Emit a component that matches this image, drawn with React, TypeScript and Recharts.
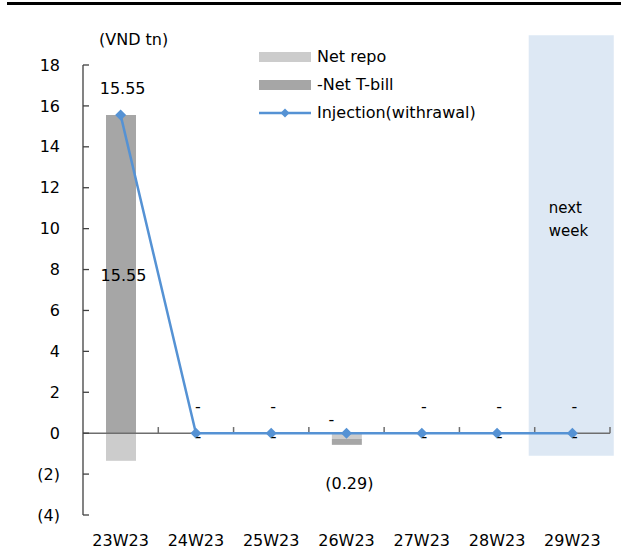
import React from 'react';
import {
  ComposedChart, Bar, Line, XAxis, YAxis, ReferenceLine, ReferenceArea, LabelList,
} from 'recharts';

const categories = ['23W23', '24W23', '25W23', '26W23', '27W23', '28W23', '29W23'];
const netRepo = [-1.35, 0, 0, -0.28, 0, 0, 0];
const negNetTbill = [15.55, 0, 0, -0.29, 0, 0, 0];
const injection = [15.55, 0, 0, 0, 0, 0, 0];
const yTicks = [-4, -2, 0, 2, 4, 6, 8, 10, 12, 14, 16, 18];
const boundaries = [1, 2, 3, 4, 5, 6, 7];
const nextWeekX: [number, number] = [5.92, 7.05];
const nextWeekY: [number, number] = [-1.1, 19.45];

const data = categories.map((cat, i) => ({
  cat,
  netRepo: netRepo[i],
  tbill: negNetTbill[i],
  injection: injection[i],
}));

const FONT = 'DejaVu Sans';
const C_REPO = '#CCCCCC';
const C_TBILL = '#A6A6A6';
const C_LINE = '#5592D4';
const C_AXIS = '#404040';

const fmtVal = (v: number) =>
  v === 0 ? '-' : v < 0 ? `(${Math.abs(v).toFixed(2)})` : v.toFixed(2);
const fmtTick = (v: number) => (v < 0 ? `(${-v})` : `${v}`);

const LINE_LABEL_NUDGE: Record<number, [number, number]> = { 3: [-17, 13] };

const Diamond = (props: any) => {
  const { cx, cy, index } = props;
  if (cx == null || cy == null) return null;
  const s = 5.5;
  return (
    <path
      key={`d-${index}`}
      d={`M${cx},${cy - s}L${cx + s},${cy}L${cx},${cy + s}L${cx - s},${cy}Z`}
      fill={C_LINE}
    />
  );
};

const LineLabel = (props: any) => {
  const { x, y, value, index } = props;
  const [nx, ny] = LINE_LABEL_NUDGE[index] || [0, 0];
  return (
    <text x={x + 2 + nx} y={y - 21 + ny} textAnchor="middle" fontSize={16} fontFamily={FONT} fill="#000">
      {fmtVal(Number(value))}
    </text>
  );
};

// non-zero T-bill labels, placed on the bar
const TbillLabel = (props: any) => {
  const { x, y, width, height, value } = props;
  const v = Number(value);
  if (v === 0) return null;
  const cx = x + width / 2 + 2.5;
  const top = Math.min(y, y + height);
  const bottom = Math.max(y, y + height);
  const ty = v < 0 ? bottom + 44 : (top + bottom) / 2 + 6.5;
  return (
    <text x={cx} y={ty} textAnchor="middle" fontSize={16} fontFamily={FONT} fill="#000">
      {fmtVal(v)}
    </text>
  );
};

// zero T-bill labels ("-"), drawn above the line markers
const TbillZeroLabel = (props: any) => {
  const { x, y, value } = props;
  if (Number(value) !== 0) return null;
  return (
    <text x={x + 2.5} y={y + 8.5} textAnchor="middle" fontSize={16} fontFamily={FONT} fill="#000">
      -
    </text>
  );
};

const NextWeekLabel = (props: any) => {
  const { viewBox } = props;
  const { x, y } = viewBox;
  return (
    <text x={x + 20} y={y + 178} fontSize={15} fontFamily={FONT} fill="#000">
      <tspan x={x + 20} dy={0}>next</tspan>
      <tspan x={x + 20} dy={23}>week</tspan>
    </text>
  );
};

const LegendBox = () => (
  <div style={{ position: 'absolute', left: 259, top: 43, fontFamily: FONT, fontSize: 16, color: '#000' }}>
    {[
      { name: 'Net repo', kind: 'bar', color: C_REPO },
      { name: '-Net T-bill', kind: 'bar', color: C_TBILL },
      { name: 'Injection(withrawal)', kind: 'line', color: C_LINE },
    ].map((it) => (
      <div key={it.name} style={{ display: 'flex', alignItems: 'center', height: 28, whiteSpace: 'nowrap' }}>
        {it.kind === 'bar' ? (
          <div style={{ width: 52, height: 10, background: it.color }} />
        ) : (
          <svg width={52} height={12} style={{ display: 'block' }}>
            <line x1={0} y1={6} x2={52} y2={6} stroke={it.color} strokeWidth={2.5} />
            <path d="M26,1.5L30.5,6L26,10.5L21.5,6Z" fill={it.color} />
          </svg>
        )}
        <span style={{ marginLeft: 6, lineHeight: '28px' }}>{it.name}</span>
      </div>
    ))}
  </div>
);

const catPos = (d: any) => categories.indexOf(d.cat) + 0.5;

export default function App() {
  return (
    <div style={{ position: 'absolute', left: 0, top: 0, width: 633, height: 558, background: '#fff', fontFamily: FONT }}>
      <div style={{ position: 'absolute', left: 7, top: 2, width: 614, height: 3, background: '#000' }} />
      <div style={{ position: 'absolute', left: 99, top: 30, fontSize: 16, lineHeight: '19px', color: '#000', whiteSpace: 'nowrap' }}>
        (VND tn)
      </div>
      <ComposedChart
        width={633}
        height={558}
        data={data}
        margin={{ top: 65, right: 23, bottom: 0, left: 0 }}
        stackOffset="sign"
        style={{ position: 'absolute', left: 0, top: 0 }}
      >
        <XAxis
          dataKey="cat"
          axisLine={false}
          tickLine={false}
          tickSize={0}
          tickMargin={20}
          height={43}
          interval={0}
          tick={{ fill: '#000', fontSize: 16, fontFamily: FONT }}
        />
        <XAxis
          xAxisId="num"
          type="number"
          dataKey={catPos}
          domain={[0, categories.length]}
          allowDataOverflow
          hide
        />
        <YAxis
          domain={[-4, 18]}
          ticks={yTicks}
          interval={0}
          allowDataOverflow
          width={83}
          tickFormatter={fmtTick}
          axisLine={{ stroke: C_AXIS, strokeWidth: 1.3 }}
          tickLine={{ stroke: C_AXIS, strokeWidth: 1.3 }}
          tickSize={-6}
          tickMargin={29}
          tick={{ fill: '#000', fontSize: 16, fontFamily: FONT }}
        />
        <ReferenceArea
          xAxisId="num"
          x1={nextWeekX[0]}
          x2={nextWeekX[1]}
          y1={nextWeekY[0]}
          y2={nextWeekY[1]}
          ifOverflow="visible"
          fill="#DDE8F4"
          fillOpacity={1}
          stroke="none"
          label={NextWeekLabel}
        />
        <ReferenceLine xAxisId="num" y={0} stroke="#6E6E6E" strokeWidth={1.5} />
        {boundaries.map((b) => (
          <ReferenceLine
            key={b}
            xAxisId="num"
            ifOverflow="visible"
            segment={[{ x: b, y: 0 }, { x: b, y: 0.3 }]}
            stroke="#6E6E6E"
            strokeWidth={1.5}
          />
        ))}
        <Bar dataKey="netRepo" stackId="a" fill={C_REPO} barSize={30} isAnimationActive={false} />
        <Bar dataKey="tbill" stackId="a" fill={C_TBILL} barSize={30} isAnimationActive={false}>
          <LabelList dataKey="tbill" content={TbillLabel} />
        </Bar>
        <Line
          dataKey="injection"
          type="linear"
          stroke={C_LINE}
          strokeWidth={2.5}
          dot={Diamond}
          activeDot={false}
          isAnimationActive={false}
        >
          <LabelList dataKey="injection" content={LineLabel} />
          <LabelList dataKey="tbill" content={TbillZeroLabel} />
        </Line>
      </ComposedChart>
      <LegendBox />
    </div>
  );
}
